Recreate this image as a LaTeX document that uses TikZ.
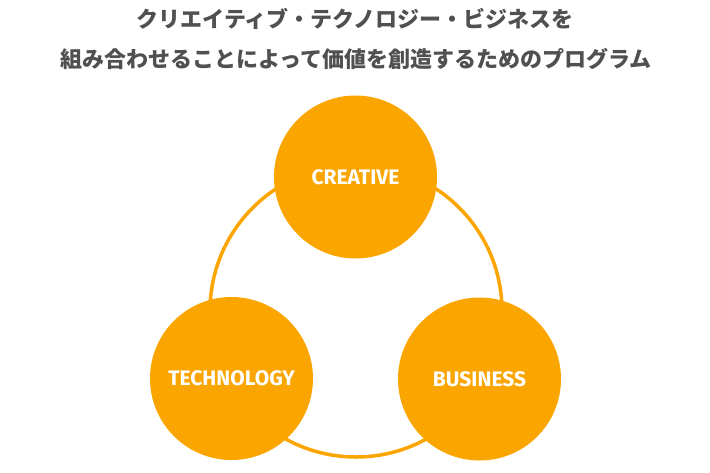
\documentclass[tikz,border=0pt]{standalone}
\usepackage{fontspec}
\setsansfont{Fira Sans}
\newfontfamily\cjk{Noto Sans CJK JP}
\usetikzlibrary{positioning}
\definecolor{accent}{HTML}{FAA500}
\definecolor{headgray}{HTML}{505050}
\tikzstyle{pillar}=[circle, fill=accent, minimum size=163pt, inner sep=0pt,
text=white, font=\sffamily\bfseries\fontsize{21}{21}\selectfont]
\tikzstyle{ring}=[draw=accent, line width=3.5pt]
\tikzstyle{heading}=[text=headgray, inner sep=0pt,
font=\cjk\bfseries\fontsize{22}{22}\selectfont]

\begin{document}
\begin{tikzpicture}[x=1pt, y=-1pt]
    \useasboundingbox (0,0) rectangle (710,472);

    % title
    \node[heading] (title1) at (355,19) {クリエイティブ・テクノロジー・ビジネスを};
    \node[heading] (title2) at (356,59) {組み合わせることによって価値を創造するためのプログラム};

    % ring behind the three circles
    \coordinate (hub) at (356,311);
    \draw[ring] (hub) circle (146pt);

    \node[pillar] (creative) at (355.5,177) {CREATIVE};
    \node[pillar] (technology) at (231.5,378.5) {TECHNOLOGY};
    \node[pillar] (business) at (479.5,379) {BUSINESS};
\end{tikzpicture}
\end{document}
